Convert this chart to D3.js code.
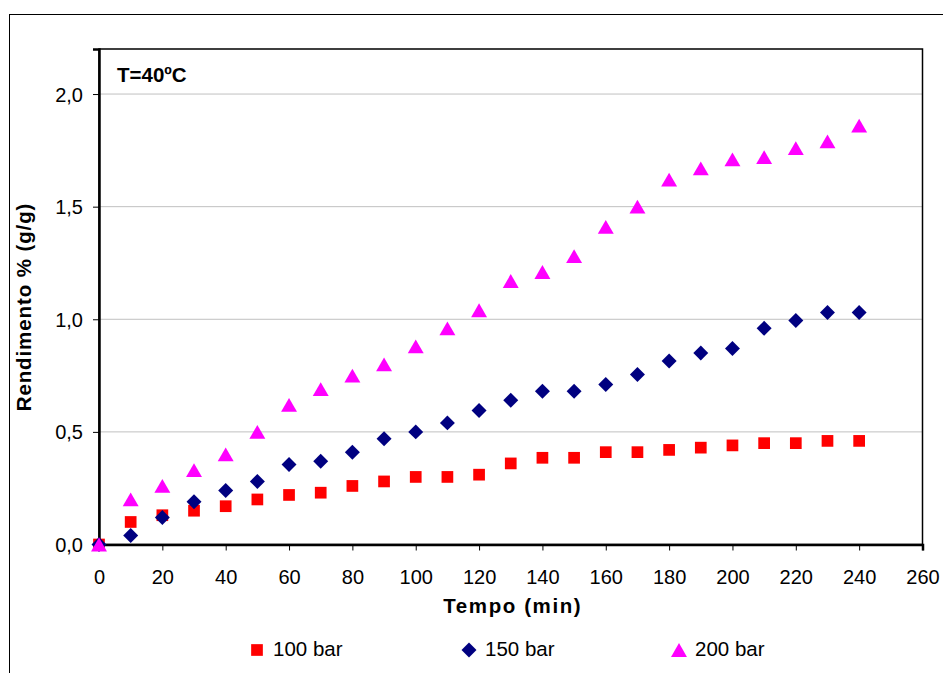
<!DOCTYPE html>
<html>
<head>
<meta charset="utf-8">
<script src="https://cdn.jsdelivr.net/npm/d3@7"></script>
<style>
  body { margin: 0; background: #fff; }
  svg { display: block; font-family: Arial, "Liberation Sans", sans-serif; }
</style>
</head>
<body>
<svg id="chart" width="943" height="673"></svg>
<script>
// Tempo (min)
const tempo = [0, 10, 20, 30, 40, 50, 60, 70, 80, 90, 100, 110, 120,
               130, 140, 150, 160, 170, 180, 190, 200, 210, 220, 230, 240];

// Rendimento % (g/g) per pressure
const bar100 = [0, 0.10, 0.13, 0.15, 0.17, 0.20, 0.22, 0.23, 0.26, 0.28, 0.30, 0.30, 0.31,
                0.36, 0.385, 0.385, 0.41, 0.41, 0.42, 0.43, 0.44, 0.45, 0.45, 0.46, 0.46];
const bar150 = [0, 0.04, 0.12, 0.19, 0.24, 0.28, 0.355, 0.37, 0.41, 0.47, 0.50, 0.54, 0.595,
                0.64, 0.68, 0.68, 0.71, 0.755, 0.815, 0.85, 0.87, 0.96, 0.995, 1.03, 1.03];
const bar200 = [0, 0.20, 0.26, 0.33, 0.40, 0.50, 0.62, 0.69, 0.75, 0.80, 0.88, 0.96, 1.04,
                1.17, 1.21, 1.28, 1.41, 1.50, 1.62, 1.67, 1.71, 1.72, 1.76, 1.79, 1.86];

const seriesNames = ["100 bar", "150 bar", "200 bar"];
const xTicks = d3.range(0, 261, 20);
const yTicks = [0, 0.5, 1.0, 1.5, 2.0];

// square marker rotated 45deg gives the Excel-style diamond;
// dy moves the triangle so its box (not its centroid) sits on the value
const series = [
    {name: seriesNames[0], values: bar100, color: "#FF0000", shape: d3.symbolSquare, size: 137, rot: 0, dy: 0},
    {name: seriesNames[1], values: bar150, color: "#000080", shape: d3.symbolSquare, size: 112, rot: 45, dy: 0},
    {name: seriesNames[2], values: bar200, color: "#FF00FF", shape: d3.symbolTriangle, size: 110, rot: 0, dy: 2.3}
];
const legendX = [257, 469, 679];

const svg = d3.select("#chart");

// Outer chart frame (runs past the window on right and bottom)
svg.append("rect")
    .attr("x", 9.5).attr("y", 14.5)
    .attr("width", 960).attr("height", 700)
    .attr("fill", "none").attr("stroke", "#000").attr("stroke-width", 1);

const plot = {left: 99, right: 922.5, top: 49, bottom: 544.5};

const x = d3.scaleLinear().domain([0, 260]).range([plot.left, plot.right]);
const y = d3.scaleLinear().domain([0, 2.2]).range([plot.bottom, plot.top]);

const fmt = d => d.toFixed(1).replace(".", ",");

// Gridlines
svg.append("g")
    .selectAll("line")
    .data(yTicks.filter(d => d > 0))
    .enter().append("line")
    .attr("x1", plot.left).attr("x2", plot.right)
    .attr("y1", d => y(d)).attr("y2", d => y(d))
    .attr("stroke", "#c0c0c0").attr("stroke-width", 1);

// Plot frame
svg.append("rect")
    .attr("x", plot.left).attr("y", plot.top)
    .attr("width", plot.right - plot.left).attr("height", plot.bottom - plot.top)
    .attr("fill", "none").attr("stroke", "#000").attr("stroke-width", 1.5);

// Axes
const xAxis = svg.append("g")
    .attr("transform", `translate(0,${plot.bottom})`)
    .call(d3.axisBottom(x).tickValues(xTicks).tickSize(6).tickPadding(10).tickFormat(d3.format("d")));
const yAxis = svg.append("g")
    .attr("transform", `translate(${plot.left},0)`)
    .call(d3.axisLeft(y).tickValues(yTicks).tickSize(6).tickPadding(10).tickFormat(fmt));

[xAxis, yAxis].forEach(a => {
    a.select(".domain").attr("stroke", "#000").attr("stroke-width", 2.5);
    a.selectAll(".tick line").attr("stroke", "#000").attr("stroke-width", 1);
    a.selectAll(".tick text")
        .attr("fill", "#000")
        .style("font-size", "20px")
        .style("font-family", "Arial, 'Liberation Sans', sans-serif");
});
xAxis.selectAll(".tick text").attr("y", 39).attr("dy", null);
yAxis.selectAll(".tick text").attr("dy", "0.35em");

// Axis titles
svg.append("text")
    .attr("x", (plot.left + plot.right) / 2 + 2)
    .attr("y", 613)
    .attr("text-anchor", "middle")
    .style("font-size", "20.5px")
    .style("font-weight", "bold")
    .style("letter-spacing", "1.6px")
    .text("Tempo (min)");

svg.append("text")
    .attr("transform", "translate(31,307) rotate(-90)")
    .attr("text-anchor", "middle")
    .style("font-size", "20.5px")
    .style("font-weight", "bold")
    .style("letter-spacing", "0.9px")
    .text("Rendimento % (g/g)");

// Temperature annotation
svg.append("text")
    .attr("x", 117).attr("y", 82)
    .style("font-size", "20.5px")
    .style("font-weight", "bold")
    .text("T=40ºC");

// Markers
series.forEach(s => {
    svg.append("g")
        .selectAll("path")
        .data(s.values.map((v, i) => ({t: tempo[i], v: v})))
        .enter().append("path")
        .attr("transform", d => `translate(${x(d.t)},${y(d.v) + s.dy}) rotate(${s.rot})`)
        .attr("d", d3.symbol().type(s.shape).size(s.size))
        .attr("fill", s.color);
});

// Legend
const legend = svg.append("g");
series.forEach((s, i) => {
    legend.append("path")
        .attr("transform", `translate(${legendX[i]},${650 + s.dy}) rotate(${s.rot})`)
        .attr("d", d3.symbol().type(s.shape).size(s.size))
        .attr("fill", s.color);
    legend.append("text")
        .attr("x", legendX[i] + 16)
        .attr("y", 656)
        .style("font-size", "20.5px")
        .text(s.name);
});
</script>
</body>
</html>
